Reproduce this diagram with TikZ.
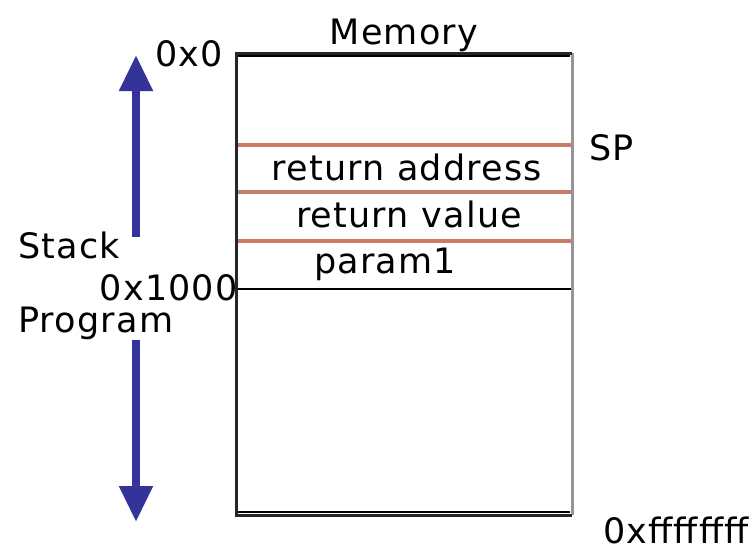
\documentclass[tikz,border=0pt]{standalone}
\usepackage{fontspec}
\setmainfont[LetterSpace=3.5]{DejaVu Sans}
\usetikzlibrary{arrows.meta}
\definecolor{arrowblue}{RGB}{51,51,153}
\definecolor{slotline}{RGB}{200,125,105}
\definecolor{edgegray}{RGB}{150,150,150}
\definecolor{shade}{RGB}{225,225,225}
\begin{document}
\begin{tikzpicture}[x=1pt,y=-1pt,
  lbl/.style={inner sep=0pt,font=\fontsize{35}{40}\selectfont},
  dirarrow/.style={arrowblue,line width=8pt,
    -{Triangle[width=32pt,length=36pt]}},
  slot/.style={slotline,line width=3.2pt},
  frame/.style={black!85,line width=3pt}]
\useasboundingbox (0,0) rectangle (754,546);
% memory block
\coordinate (tl) at (236,53);
\coordinate (tr) at (572,53);
\coordinate (bl) at (236,515);
\coordinate (br) at (572,515);
\draw[shade,line width=2.5pt] (238,55.8) -- (570,55.8);
\draw[shade,line width=2.5pt] (238,512.2) -- (570,512.2);
\draw[edgegray,line width=3pt] (tr) -- (br);
\draw[frame] (tr) -- (tl) -- (bl) -- (br);
% stack slots
\draw[slot] (237.5,145) -- (570.5,145);
\draw[slot] (237.5,192) -- (570.5,192);
\draw[slot] (237.5,241) -- (570.5,241);
\draw[black,line width=2.8pt] (237.5,289) -- (570.5,289);
% labels
\node[lbl,anchor=base] (mem) at (404,44) {Memory};
\node[lbl,anchor=base west] (a0) at (155,66) {0x0};
\node[lbl,anchor=base west] (sp) at (589,160) {SP};
\node[lbl,anchor=base] (ra) at (407,180) {return address};
\node[lbl,anchor=base] (rv) at (409,227) {return value};
\node[lbl,anchor=base] (p1) at (385,273) {param1};
\node[lbl,anchor=base west] (stk) at (18,258) {Stack};
\node[lbl,anchor=base east] (a1000) at (238,300) {0x1000};
\node[lbl,anchor=base west] (prg) at (18,332) {Program};
\node[lbl,anchor=base west] (aend) at (603,543) {0xffffffff};
% growth directions
\coordinate (upstart) at (136,237);
\coordinate (uptip) at (136,55);
\coordinate (downstart) at (136,340);
\coordinate (downtip) at (136,522);
\draw[dirarrow] (upstart) -- (uptip);
\draw[dirarrow] (downstart) -- (downtip);
\end{tikzpicture}
\end{document}
